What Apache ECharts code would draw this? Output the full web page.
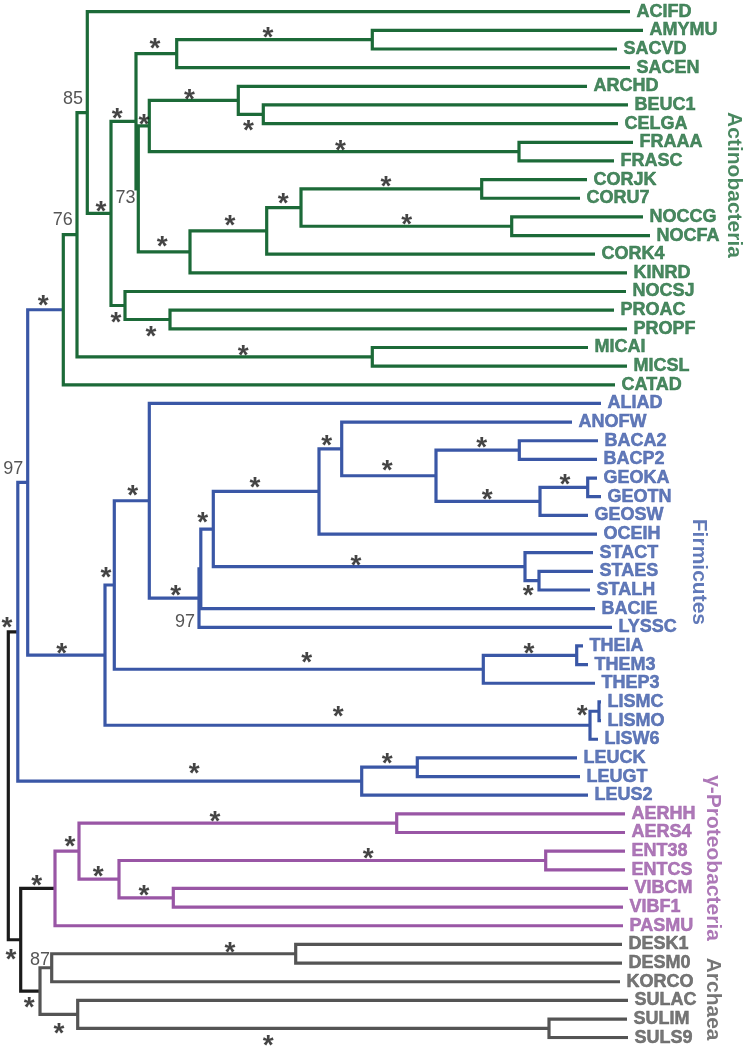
<!DOCTYPE html>
<html><head><meta charset="utf-8">
<script src="https://cdn.jsdelivr.net/npm/echarts@6/dist/echarts.min.js"></script>
<style>html,body{margin:0;padding:0;background:#fff}#c{width:750px;height:1049px}</style>
</head><body><div id="c"></div>
<script>
// Leaves, top to bottom
const leaves = ['ACIFD','AMYMU','SACVD','SACEN','ARCHD','BEUC1','CELGA','FRAAA','FRASC','CORJK','CORU7','NOCCG','NOCFA','CORK4','KINRD','NOCSJ','PROAC','PROPF','MICAI','MICSL','CATAD',
 'ALIAD','ANOFW','BACA2','BACP2','GEOKA','GEOTN','GEOSW','OCEIH','STACT','STAES','STALH','BACIE','LYSSC','THEIA','THEM3','THEP3','LISMC','LISMO','LISW6','LEUCK','LEUGT','LEUS2',
 'AERHH','AERS4','ENT38','ENTCS','VIBCM','VIBF1','PASMU','DESK1','DESM0','KORCO','SULAC','SULIM','SULS9'];
// Tip depth (distance from root, drawing units) of each leaf
const tipDepth = [630,643,617,630,587,628,618,633,614,587,580,643,650,595,627,626,614,627,588,627,615,
 601,572,598,597,597,601,588,597,593,593,590,595,612,583,588,595,601,601,598,577,580,588,
 625,625,625,625,628,623,623,622,622,620,628,627,628];
// Internal nodes: [id, depth, children, clade]
const nodes = [
 ['root',8.3,['B','C'],'k'],
 ['B',17.8,['A','LEU'],'b'],
 ['A',27.7,['ACT','FM1']],
 ['ACT',63.3,['D','CATAD'],'g'],
 ['D',77,['E','MIC']],
 ['E',87.3,['ACIFD','F']],
 ['F',111,['G','NP']],
 ['G',136,['SA','X']],
 ['SA',176.7,['AM','SACEN']],
 ['AM',372.3,['AMYMU','SACVD']],
 ['X',138.3,['ARF','CN']],
 ['ARF',149.3,['AR','FRA']],
 ['AR',238.3,['ARCHD','BC']],
 ['BC',263.3,['BEUC1','CELGA']],
 ['FRA',519,['FRAAA','FRASC']],
 ['CN',190,['CC','KINRD']],
 ['CC',266.7,['CC2','CORK4']],
 ['CC2',301,['COR','NOC']],
 ['COR',481.7,['CORJK','CORU7']],
 ['NOC',511.7,['NOCCG','NOCFA']],
 ['NP',125,['NOCSJ','PRO']],
 ['PRO',170,['PROAC','PROPF']],
 ['MIC',372.3,['MICAI','MICSL']],
 ['FM1',105,['FM2','LIS']],
 ['FM2',114.3,['FB','THE']],
 ['FB',149.3,['ALIAD','Q']],
 ['Q',199,['R','LYSSC']],
 ['R',200.8,['BS','BACIE']],
 ['BS',213.3,['BO','STA']],
 ['BO',319,['AB','OCEIH']],
 ['AB',341.7,['ANOFW','BG']],
 ['BG',436,['BAC','GEO']],
 ['BAC',519.3,['BACA2','BACP2']],
 ['GEO',540,['GEOK','GEOSW']],
 ['GEOK',587.7,['GEOKA','GEOTN']],
 ['STA',525,['STACT','STA2']],
 ['STA2',539,['STAES','STALH']],
 ['THE',483.3,['THE2','THEP3']],
 ['THE2',576.7,['THEIA','THEM3']],
 ['LIS',590,['LIS2','LISW6']],
 ['LIS2',599,['LISMC','LISMO']],
 ['LEU',361.7,['LEU2','LEUS2']],
 ['LEU2',417.3,['LEUCK','LEUGT']],
 ['C',20.7,['GAM','ARC']],
 ['GAM',55,['GA','PASMU'],'p'],
 ['GA',79,['AER','EV']],
 ['AER',396.7,['AERHH','AERS4']],
 ['EV',119,['ENT','VIB']],
 ['ENT',545.7,['ENT38','ENTCS']],
 ['VIB',173.3,['VIBCM','VIBF1']],
 ['ARC',40,['N87','SUL'],'a'],
 ['N87',51.7,['DES','KORCO']],
 ['DES',295.7,['DESK1','DESM0']],
 ['SUL',77.7,['SULAC','SUL2']],
 ['SUL2',549,['SULIM','SULS9']]
];
// Support values: [node, text, depth along the node's stem, pixel offset from stem]
const supports = [
 ['AM','*',268,-8],['SA','*',155,-11],['AR','*',189.5,-6.5],['BC','*',248.5,10.5],['FRA','*',340.5,-7],['ARF','*',144,-7],
 ['COR','*',386,-8],['NOC','*',406.7,-8],['CC2','*',283.3,-10],['CC','*',230,-11],['CN','*',162.3,-11],['X','73',125.5,9],
 ['G','*',117.3,-9],['NP','*',116,10.5],['PRO','*',151,10.5],['F','*',101,-7.7],['E','85',73,-14],['MIC','*',243.3,-7],
 ['D','76',62.7,-15],['ACT','*',43.3,-10.5],
 ['BAC','*',481.7,-8.4],['GEOK','*',565,-9],['GEO','*',487.3,-8],['BG','*',387.3,-11],['AB','*',326.7,-9],['BO','*',255,-10],
 ['STA2','*',528.3,9.3],['STA','*',356,-7],['BS','*',202.7,-12.4],['Q','*',175.7,-9],['Q','97',185,23.6],['FB','*',132.7,-11.5],
 ['THE2','*',529,-8],['THE','*',306.7,-12.6],['FM2','*',106,-13.3],['LIS2','*',582.3,-1.3],['LIS','*',338.3,-15],['FM1','*',61.7,-7.4],
 ['A','97',13.3,-13],['LEU2','*',387.3,-9.5],['LEU','*',194.3,-14],['B','*',7,-10],
 ['AER','*',215,-8],['ENT','*',368.3,-8],['VIB','*',144,-8],['EV','*',98.3,-8.5],['GA','*',70,-11],['GAM','*',36.7,-8.5],
 ['DES','*',230,-7],['N87','87',40,-8],['SUL2','*',268.3,11],['SUL','*',59,13],['ARC','*',29.3,10.6],['C','*',11,13.5]
];
const cladeNames = ['Actinobacteria','Firmicutes','γ-Proteobacteria','Archaea'];
const cladeKeys = ['g','b','p','a'];
const cladeLabelAt = [[734,9.29],[699,30.03],[713,45.37],[713,52.93]];

const palette = {k:'#1b1b1b', b:'#3a57a6', g:'#1c6a38', p:'#9956a5', a:'#545454'};
const starFont = 28, starShift = 6.8;

// ---- build tree geometry ----
const info = {};
leaves.forEach((n,i)=>{ info[n] = {x: tipDepth[i], y: i, leaf:true}; });
nodes.forEach(([id,d,ch,cl])=>{ info[id] = {x:d, ch:ch, clade:cl}; });
function setClade(id, cl){ const n = info[id]; if(n.clade===undefined) n.clade = cl; if(n.ch) n.ch.forEach(c=>setClade(c, n.clade)); }
setClade('root','k');
function yOf(id){ const n = info[id]; if(n.y===undefined){ const ys = n.ch.map(yOf); n.y = (ys[0]+ys[ys.length-1])/2; } return n.y; }
yOf('root');
const segs = [];
nodes.forEach(([id])=>{
  const n = info[id]; const col = palette[n.clade];
  const f = info[n.ch[0]], l = info[n.ch[n.ch.length-1]];
  segs.push({coords:[[f.x,f.y],[n.x,f.y],[n.x,l.y],[l.x,l.y]], lineStyle:{color:col}});
  n.ch.slice(1,-1).forEach(c=>{ const cc = info[c]; segs.push({coords:[[n.x,cc.y],[cc.x,cc.y]], lineStyle:{color:col}}); });
  n.ch.forEach(c=>{ if(info[c].leaf) info[c].clade = n.clade; });
});
const leafData = leaves.map((n,i)=>{ const c = palette[info[n].clade];
  return {name:n, value:[tipDepth[i], i], label:{color:c, textBorderColor:c, textBorderWidth:0.5}}; });
const supData = supports.map(([id,t,x,dy])=>{
  const star = t==='*';
  return {name:t, value:[x, info[id].y], label:{offset:[0, dy + (star?starShift:0)], fontSize: star?starFont:18,
    fontWeight: star?'bold':'normal', color: star?'#151515':'#2a2a2a'}};
});
const cladeData = cladeNames.map((c,i)=>({name:c, value:cladeLabelAt[i], label:{color: palette[cladeKeys[i]]}}));

const chart = echarts.init(document.getElementById('c'), null, {renderer:'canvas'});
chart.setOption({
  animation:false,
  grid:{left:0,right:0,top:11.7,bottom:11.3},
  xAxis:{type:'value',min:0,max:750,show:false},
  yAxis:{type:'value',min:0,max:55,inverse:true,show:false},
  series:[
    {type:'lines',coordinateSystem:'cartesian2d',polyline:true,silent:true,data:segs,
     lineStyle:{width:3.2,opacity:1,cap:'butt',join:'miter'}},
    {type:'scatter',symbolSize:1,itemStyle:{color:'rgba(0,0,0,0)'},silent:true,data:leafData,
     label:{show:true,position:'right',distance:6,formatter:'{b}',fontFamily:'Liberation Sans',fontWeight:'bold',fontSize:18}},
    {type:'scatter',symbolSize:1,itemStyle:{color:'rgba(0,0,0,0)'},silent:true,data:supData,
     label:{show:true,position:'inside',formatter:'{b}',fontFamily:'Liberation Sans'}},
    {type:'scatter',symbolSize:1,itemStyle:{color:'rgba(0,0,0,0)'},silent:true,data:cladeData,
     label:{show:true,position:'inside',formatter:'{b}',rotate:-90,fontFamily:'Liberation Sans',fontWeight:'bold',fontSize:21}}
  ]
});
</script></body></html>
